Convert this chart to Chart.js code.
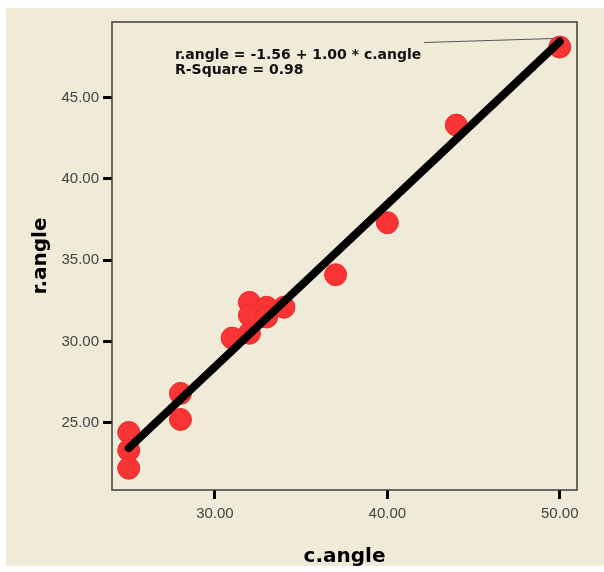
<!DOCTYPE html>
<html>
<head>
<meta charset="utf-8">
<script src="https://cdn.jsdelivr.net/npm/chart.js@4"></script>
<style>
  html, body { margin: 0; padding: 0; background: #fff; }
  #wrap { width: 604px; height: 572px; }
</style>
</head>
<body>
<div id="wrap"><canvas id="scatterChart" width="604" height="572"></canvas></div>
<script>
// values
const cAngle = [25, 25, 25, 28, 28, 31, 32, 32, 32, 33, 33, 34, 37, 40, 44, 50];
const rAngle = [24.4, 23.3, 22.2, 26.8, 25.2, 30.2, 30.5, 32.4, 31.6, 32.1, 31.5, 32.1, 34.1, 37.3, 43.3, 48.1];
const intercept = -1.56;
const slope = 1.00;
const rSquare = 0.98;
const fitX = [25, 50];
const xTicks = [30, 40, 50];
const yTicks = [25, 30, 35, 40, 45];

const BEIGE = "#f0ead8";
const tickFont = { family: "'Liberation Sans', Arial, sans-serif", size: 15 };
const titleFont = { family: "'DejaVu Sans', sans-serif", size: 20, weight: "bold" };

const fitY = fitX.map((x) => intercept + slope * x);

// paper background, plot box, equation label with its leader line
const paperPlugin = {
  id: "paper",
  beforeDraw(chart) {
    const ctx = chart.ctx;
    ctx.save();
    ctx.fillStyle = "#ffffff";
    ctx.fillRect(0, 0, chart.width, chart.height);
    ctx.fillStyle = BEIGE;
    ctx.fillRect(6, 8, chart.width - 6, chart.height - 14);
    ctx.restore();
  },
  beforeDatasetsDraw(chart) {
    const { ctx, chartArea: a } = chart;
    ctx.save();
    ctx.strokeStyle = "#3c3c3c";
    ctx.lineWidth = 1.5;
    ctx.strokeRect(a.left, a.top, a.right - a.left, a.bottom - a.top);
    ctx.restore();
  },
  afterDraw(chart) {
    const ctx = chart.ctx;
    const line1 = `r.angle = ${intercept.toFixed(2)} + ${slope.toFixed(2)} * c.angle`;
    const line2 = `R-Square = ${rSquare.toFixed(2)}`;
    ctx.save();
    ctx.font = "bold 14px 'DejaVu Sans', sans-serif";
    ctx.fillStyle = "#111";
    ctx.textBaseline = "alphabetic";
    ctx.fillText(line1, 175, 59);
    ctx.fillText(line2, 175, 73.5);
    const w = ctx.measureText(line1).width;
    const ex = chart.scales.x.getPixelForValue(fitX[1]);
    const ey = chart.scales.y.getPixelForValue(fitY[1]);
    ctx.strokeStyle = "#555";
    ctx.lineWidth = 1;
    ctx.beginPath();
    ctx.moveTo(175 + w + 3, 42.5);
    ctx.lineTo(ex - 6, ey - 3);
    ctx.stroke();
    ctx.restore();
  },
};

const ctx = document.getElementById("scatterChart").getContext("2d");
new Chart(ctx, {
  type: "scatter",
  data: {
    datasets: [
      {
        type: "line",
        label: "fit",
        data: fitX.map((x, i) => ({ x: x, y: fitY[i] })),
        borderColor: "#000",
        borderWidth: 8,
        borderCapStyle: "round",
        pointRadius: 0,
        fill: false,
        order: 0,
      },
      {
        label: "r.angle",
        data: cAngle.map((x, i) => ({ x: x, y: rAngle[i] })),
        backgroundColor: "rgb(248, 52, 52)",
        borderColor: "rgb(235, 45, 45)",
        borderWidth: 1,
        pointRadius: 11,
        order: 1,
      },
    ],
  },
  options: {
    responsive: false,
    animation: false,
    devicePixelRatio: 1,
    layout: { padding: { left: 0, top: 22, right: 27, bottom: 0 } },
    plugins: {
      legend: { display: false },
      tooltip: { enabled: false },
    },
    scales: {
      x: {
        type: "linear",
        min: 24.03,
        max: 51,
        afterFit: (s) => { s.height = 82; },
        afterBuildTicks: (s) => { s.ticks = xTicks.map((v) => ({ value: v })); },
        ticks: {
          callback: (v) => Number(v).toFixed(2),
          font: tickFont,
          color: "#444",
          padding: 6,
          maxRotation: 0,
        },
        grid: {
          drawOnChartArea: false,
          drawTicks: true,
          tickLength: 9,
          tickWidth: 3,
          tickColor: "#000",
        },
        border: { display: false },
        title: {
          display: true,
          text: "c.angle",
          font: titleFont,
          color: "#000",
          padding: { top: 0, bottom: 3 },
        },
      },
      y: {
        type: "linear",
        min: 20.86,
        max: 49.64,
        afterFit: (s) => { s.width = 112; },
        afterBuildTicks: (s) => { s.ticks = yTicks.map((v) => ({ value: v })); },
        ticks: {
          callback: (v) => Number(v).toFixed(2),
          font: tickFont,
          color: "#444",
          padding: 4,
        },
        grid: {
          drawOnChartArea: false,
          drawTicks: true,
          tickLength: 9,
          tickWidth: 3,
          tickColor: "#000",
        },
        border: { display: false },
        title: {
          display: true,
          text: "r.angle",
          font: titleFont,
          color: "#000",
          padding: { top: 29, bottom: 0 },
        },
      },
    },
  },
  plugins: [paperPlugin],
});
</script>
</body>
</html>
